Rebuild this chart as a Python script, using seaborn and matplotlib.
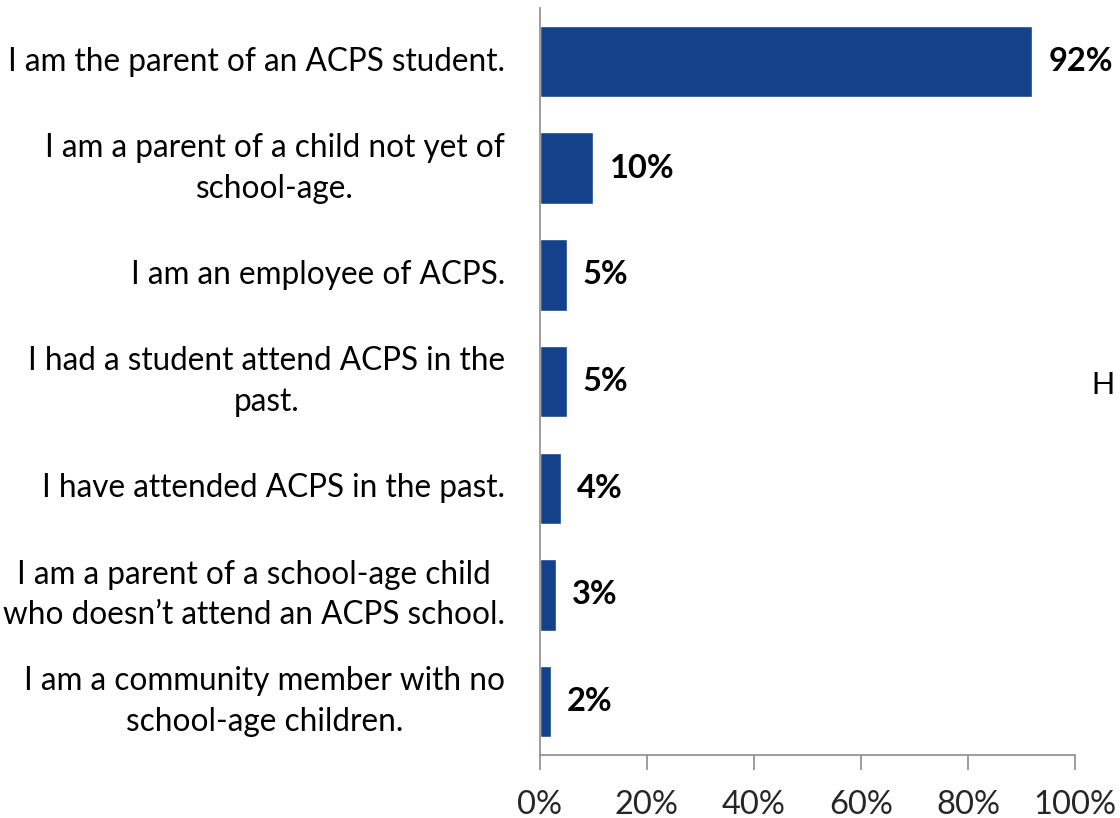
import matplotlib
matplotlib.use("Agg")
import matplotlib.pyplot as plt
import seaborn as sns
import pandas as pd

# --- Data ---
categories = [
    "I am the parent of an ACPS student.",
    "I am a parent of a child not yet of\nschool-age.",
    "I am an employee of ACPS.",
    "I had a student attend ACPS in the\npast.",
    "I have attended ACPS in the past.",
    "I am a parent of a school-age child\nwho doesn\u2019t attend an ACPS school.",
    "I am a community member with no\nschool-age children.",
]
percents = [92, 10, 5, 5, 4, 3, 2]
x_ticks = [0, 20, 40, 60, 80, 100]

BAR_COLOR = "#13428A"
AXIS_COLOR = "#8C8C8C"

sns.set_theme(style="white")
plt.rcParams['font.family'] = ['Lato', 'DejaVu Sans']

df = pd.DataFrame({"category": categories, "pct": percents})

fig = plt.figure(figsize=(11.2, 8.18), dpi=100)
ax = fig.add_axes([0.482, 0.077, 0.478, 0.913])

sns.barplot(data=df, y="category", x="pct", orient="h", color=BAR_COLOR,
            saturation=1, width=0.67, ax=ax)

ax.set_xlim(0, 100)
ax.set_ylim(6.5, -0.5)
ax.set_xticks(x_ticks)
ax.set_xticklabels([f"{t}%" for t in x_ticks], fontsize=23.5)
ax.set_yticks(range(len(categories)))
ax.set_yticklabels([])
ax.set_xlabel("")
ax.set_ylabel("")

ax.tick_params(axis="x", direction="out", length=11, width=1.2, color=AXIS_COLOR,
               pad=14, bottom=True)
ax.tick_params(axis="y", length=0)

# category labels drawn by hand so the wrapped lines get Excel-like spacing
for i, cat in enumerate(categories):
    ax.annotate(cat, xy=(0, i), xycoords=("axes fraction", "data"),
                xytext=(-35, 0), textcoords="offset pixels",
                ha="right", va="center", multialignment="center",
                linespacing=1.45, fontsize=22.7, color="black")

for side in ["top", "right"]:
    ax.spines[side].set_visible(False)
for side in ["left", "bottom"]:
    ax.spines[side].set_color(AXIS_COLOR)
    ax.spines[side].set_linewidth(1.2)

# bold value labels at the bar ends
for i, v in enumerate(percents):
    ax.text(v + 3, i, f"{v}%", va="center", ha="left", fontsize=23.5,
            fontweight="bold", color="black")

fig.text(0.995, 1 - 386 / 818, "H", ha="right", va="center", fontsize=23,
         family="Liberation Sans", color="black")

fig.savefig("out.png", dpi=100)
